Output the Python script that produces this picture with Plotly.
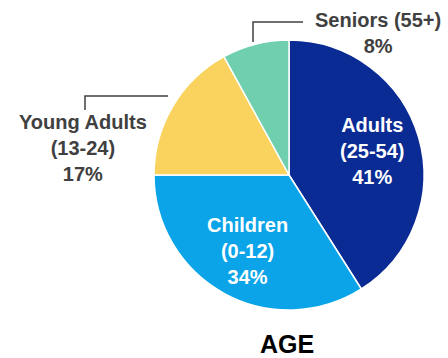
import math
import plotly.graph_objects as go

labels = ["Adults<br>(25-54)", "Children<br>(0-12)", "Young Adults<br>(13-24)", "Seniors (55+)"]
values = [41, 34, 17, 8]
colors = ["#0A2B94", "#0BA4E8", "#F9D35E", "#6FCFAF"]
title = "AGE"

W, H = 448, 358
def px(x): return x / W
def py(y): return 1 - y / H

cx, cy, r = 289, 175, 135

fig = go.Figure(go.Pie(
    labels=labels, values=values, sort=False, direction="clockwise", rotation=0,
    marker=dict(colors=colors, line=dict(color="white", width=1.5)),
    textinfo="none",
    hoverinfo="label+value", showlegend=False,
    domain=dict(x=[px(cx - r), px(cx + r)], y=[py(cy + r), py(cy - r)]),
))

font_in = dict(family="Liberation Sans, Arial", size=20, color="white", weight="bold")
font_out = dict(family="Liberation Sans, Arial", size=20, color="#404040", weight="bold")

# inside labels placed at each slice's mid-angle
total = sum(values)
cum = 0
for i, v in enumerate(values):
    mid = (cum + v / 2) / total * 2 * math.pi
    cum += v
    if i < 2:
        rr = 0.64 * r
        x = cx + rr * math.sin(mid)
        y = cy - rr * math.cos(mid)
        fig.add_annotation(x=px(x), y=py(y), xref="paper", yref="paper", showarrow=False,
                           xanchor="center", yanchor="middle",
                           text=f"{labels[i]}<br>{v}%", font=font_in, align="center")

fig.add_annotation(x=px(83), y=py(148), xref="paper", yref="paper", showarrow=False,
                   xanchor="center", yanchor="middle",
                   text=f"{labels[2]}<br>{values[2]}%", font=font_out, align="center")
fig.add_annotation(x=px(378), y=py(33), xref="paper", yref="paper", showarrow=False,
                   xanchor="center", yanchor="middle",
                   text=f"{labels[3]}<br>{values[3]}%", font=font_out, align="center")
fig.add_annotation(x=px(287), y=py(344), xref="paper", yref="paper", showarrow=False,
                   xanchor="center", yanchor="middle",
                   text=f"<b>{title}</b>", font=dict(family="Liberation Sans, Arial", size=25, color="black"))

line = dict(color="#404040", width=1.5)
fig.add_shape(type="path", xref="paper", yref="paper",
              path=f"M {px(85)} {py(110)} L {px(85)} {py(96)} L {px(168)} {py(96)}", line=line)
fig.add_shape(type="path", xref="paper", yref="paper",
              path=f"M {px(253)} {py(42)} L {px(253)} {py(22)} L {px(303)} {py(22)}", line=line)

fig.update_layout(width=W, height=H, margin=dict(l=0, r=0, t=0, b=0),
                  paper_bgcolor="white", plot_bgcolor="white")
fig.write_html("out.html")
